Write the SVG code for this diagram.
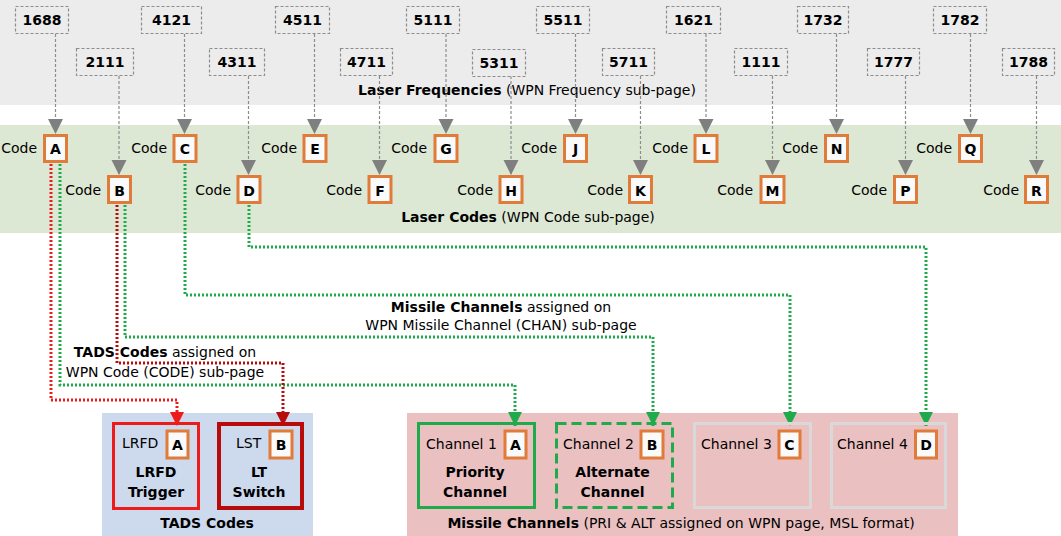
<svg xmlns="http://www.w3.org/2000/svg" width="1061" height="536" viewBox="0 0 1061 536">
<defs>
<style>
text{font-family:"DejaVu Sans","Liberation Sans",sans-serif;font-size:14px;fill:#000}
.b{font-weight:bold}
.m{text-anchor:middle}
.e{text-anchor:end}
.freq rect{fill:#ececec;stroke:#8c8c8c;stroke-width:1.2;stroke-dasharray:3 2}
.cb{fill:#fafafa;stroke:#e07b39;stroke-width:3}
.gl{fill:none;stroke:#8c8c8c;stroke-width:1.2;stroke-dasharray:3 2}
.dot{fill:none;stroke-width:3;stroke-dasharray:2 2}
.g{stroke:#1faa4b}
.r{stroke:#ee1b1b}
.dr{stroke:#b80c0c}
</style>
<marker id="ag" markerUnits="userSpaceOnUse" markerWidth="16" markerHeight="16" refX="15" refY="7.5" orient="auto"><path d="M0,0 L15,7.5 L0,15 z" fill="#7f7f7f"/></marker>
<marker id="agr" markerUnits="userSpaceOnUse" markerWidth="15" markerHeight="15" refX="14" refY="7" orient="auto"><path d="M0,0 L14,7 L0,14 z" fill="#1faa4b"/></marker>
<marker id="ar" markerUnits="userSpaceOnUse" markerWidth="15" markerHeight="15" refX="14" refY="7" orient="auto"><path d="M0,0 L14,7 L0,14 z" fill="#ee1b1b"/></marker>
<marker id="adr" markerUnits="userSpaceOnUse" markerWidth="15" markerHeight="15" refX="14" refY="7" orient="auto"><path d="M0,0 L14,7 L0,14 z" fill="#b80c0c"/></marker>
</defs>

<g id="bands">
<rect x="0" y="0" width="1061" height="105" fill="#ececec"/>
<rect x="0" y="125" width="1061" height="108" fill="#dde8d4"/>
<rect x="102" y="413" width="211" height="123" fill="#cdd9ec"/>
<rect x="407" y="413" width="551" height="123" fill="#ebc0c0"/>
<text x="527" y="95" class="m"><tspan class="b">Laser Frequencies</tspan> (WPN Frequency sub-page)</text>
<text x="528" y="222" class="m"><tspan class="b">Laser Codes</tspan> (WPN Code sub-page)</text>
<text x="207" y="528" class="m b">TADS Codes</text>
<text x="681" y="528" class="m"><tspan class="b">Missile Channels</tspan> (PRI &amp; ALT assigned on WPN page, MSL format)</text>
</g>

<g id="connectors">
<path class="gl" d="M55.5,34 V134" marker-end="url(#ag)"/>
<path class="gl" d="M119,76 V175" marker-end="url(#ag)"/>
<path class="gl" d="M184.5,34 V134" marker-end="url(#ag)"/>
<path class="gl" d="M248.5,76 V175" marker-end="url(#ag)"/>
<path class="gl" d="M314.5,34 V134" marker-end="url(#ag)"/>
<path class="gl" d="M379.5,76 V175" marker-end="url(#ag)"/>
<path class="gl" d="M446,34 V134" marker-end="url(#ag)"/>
<path class="gl" d="M511,76 V175" marker-end="url(#ag)"/>
<path class="gl" d="M575.5,34 V134" marker-end="url(#ag)"/>
<path class="gl" d="M640.5,76 V175" marker-end="url(#ag)"/>
<path class="gl" d="M706,34 V134" marker-end="url(#ag)"/>
<path class="gl" d="M772.5,76 V175" marker-end="url(#ag)"/>
<path class="gl" d="M836.5,34 V134" marker-end="url(#ag)"/>
<path class="gl" d="M905.5,76 V175" marker-end="url(#ag)"/>
<path class="gl" d="M970.5,34 V134" marker-end="url(#ag)"/>
<path class="gl" d="M1036.5,76 V175" marker-end="url(#ag)"/>

<path class="dot g" d="M249,205 V247 H926 V426" marker-end="url(#agr)"/>
<path class="dot g" d="M185,164 V295 H790 V426" marker-end="url(#agr)"/>
<path class="dot g" d="M125,205 V337 H653 V426" marker-end="url(#agr)"/>
<path class="dot g" d="M60,164 V385 H515 V426" marker-end="url(#agr)"/>
<path class="dot dr" d="M117,205 V363 H283 V426" marker-end="url(#adr)"/>
<path class="dot r" d="M51,164 V400 H177 V426" marker-end="url(#ar)"/>
<text x="165" y="357" class="m"><tspan class="b">TADS Codes</tspan> assigned on</text>
<text x="165" y="377" class="m">WPN Code (CODE) sub-page</text>
<text x="501" y="312" class="m"><tspan class="b">Missile Channels</tspan> assigned on</text>
<text x="501" y="330" class="m">WPN Missile Channel (CHAN) sub-page</text>
</g>

<g id="freq-1688" class="freq"><rect x="15.5" y="6.5" width="53" height="27"/><text x="42" y="25" class="m b">1688</text></g>
<g id="freq-2111" class="freq"><rect x="76.5" y="48.5" width="57" height="27"/><text x="105" y="67" class="m b">2111</text></g>
<g id="freq-4121" class="freq"><rect x="141.5" y="6.5" width="60" height="27"/><text x="171.5" y="25" class="m b">4121</text></g>
<g id="freq-4311" class="freq"><rect x="209.5" y="48.5" width="55" height="27"/><text x="237" y="67" class="m b">4311</text></g>
<g id="freq-4511" class="freq"><rect x="275.5" y="6.5" width="54" height="27"/><text x="302.5" y="25" class="m b">4511</text></g>
<g id="freq-4711" class="freq"><rect x="340.5" y="48.5" width="52" height="27"/><text x="366.5" y="67" class="m b">4711</text></g>
<g id="freq-5111" class="freq"><rect x="406.5" y="6.5" width="53" height="27"/><text x="433" y="25" class="m b">5111</text></g>
<g id="freq-5311" class="freq"><rect x="472.5" y="49.5" width="53" height="27"/><text x="499" y="68" class="m b">5311</text></g>
<g id="freq-5511" class="freq"><rect x="536.5" y="6.5" width="53" height="27"/><text x="563" y="25" class="m b">5511</text></g>
<g id="freq-5711" class="freq"><rect x="602.5" y="48.5" width="52" height="27"/><text x="628.5" y="67" class="m b">5711</text></g>
<g id="freq-1621" class="freq"><rect x="666.5" y="6.5" width="54" height="27"/><text x="693.5" y="25" class="m b">1621</text></g>
<g id="freq-1111" class="freq"><rect x="734.5" y="48.5" width="53" height="27"/><text x="761" y="67" class="m b">1111</text></g>
<g id="freq-1732" class="freq"><rect x="797.5" y="6.5" width="51" height="27"/><text x="823" y="25" class="m b">1732</text></g>
<g id="freq-1777" class="freq"><rect x="867.5" y="48.5" width="52" height="27"/><text x="893.5" y="67" class="m b">1777</text></g>
<g id="freq-1782" class="freq"><rect x="933.5" y="6.5" width="53" height="27"/><text x="960" y="25" class="m b">1782</text></g>
<g id="freq-1788" class="freq"><rect x="1002.5" y="48.5" width="52" height="27"/><text x="1028.5" y="67" class="m b">1788</text></g>

<g id="code-A"><text x="37" y="153" class="e">Code</text><rect class="cb" x="44.5" y="135.5" width="22" height="26"/><text x="55.5" y="154" class="m b">A</text></g>
<g id="code-B"><text x="101" y="195" class="e">Code</text><rect class="cb" x="108.5" y="176.5" width="22" height="26"/><text x="119.5" y="196" class="m b">B</text></g>
<g id="code-C"><text x="167" y="153" class="e">Code</text><rect class="cb" x="174" y="135.5" width="22" height="26"/><text x="185" y="154" class="m b">C</text></g>
<g id="code-D"><text x="231" y="195" class="e">Code</text><rect class="cb" x="238" y="176.5" width="22" height="26"/><text x="249" y="196" class="m b">D</text></g>
<g id="code-E"><text x="297" y="153" class="e">Code</text><rect class="cb" x="304" y="135.5" width="22" height="26"/><text x="315" y="154" class="m b">E</text></g>
<g id="code-F"><text x="362" y="195" class="e">Code</text><rect class="cb" x="369" y="176.5" width="22" height="26"/><text x="380" y="196" class="m b">F</text></g>
<g id="code-G"><text x="427" y="153" class="e">Code</text><rect class="cb" x="435" y="135.5" width="22" height="26"/><text x="446" y="154" class="m b">G</text></g>
<g id="code-H"><text x="493" y="195" class="e">Code</text><rect class="cb" x="500" y="176.5" width="22" height="26"/><text x="511" y="196" class="m b">H</text></g>
<g id="code-J"><text x="557" y="153" class="e">Code</text><rect class="cb" x="564.5" y="135.5" width="22" height="26"/><text x="575.5" y="154" class="m b">J</text></g>
<g id="code-K"><text x="623" y="195" class="e">Code</text><rect class="cb" x="629.5" y="176.5" width="22" height="26"/><text x="640.5" y="196" class="m b">K</text></g>
<g id="code-L"><text x="688" y="153" class="e">Code</text><rect class="cb" x="695" y="135.5" width="22" height="26"/><text x="706" y="154" class="m b">L</text></g>
<g id="code-M"><text x="753" y="195" class="e">Code</text><rect class="cb" x="761" y="176.5" width="23" height="26"/><text x="772.5" y="196" class="m b">M</text></g>
<g id="code-N"><text x="818" y="153" class="e">Code</text><rect class="cb" x="825.5" y="135.5" width="22" height="26"/><text x="836.5" y="154" class="m b">N</text></g>
<g id="code-P"><text x="887" y="195" class="e">Code</text><rect class="cb" x="894.5" y="176.5" width="22" height="26"/><text x="905.5" y="196" class="m b">P</text></g>
<g id="code-Q"><text x="952" y="153" class="e">Code</text><rect class="cb" x="959.5" y="135.5" width="22" height="26"/><text x="970.5" y="154" class="m b">Q</text></g>
<g id="code-R"><text x="1019" y="195" class="e">Code</text><rect class="cb" x="1025.5" y="176.5" width="22" height="26"/><text x="1036.5" y="196" class="m b">R</text></g>

<g id="lrfd">
<rect x="113.5" y="423.5" width="85" height="85" fill="none" stroke="#ee1b1b" stroke-width="3"/>
<text x="122" y="448">LRFD</text>
<rect class="cb" x="167" y="431" width="21" height="27" stroke-width="2.5"/><text x="177.5" y="450" class="m b">A</text>
<text x="156" y="477" class="m b">LRFD</text><text x="156" y="497" class="m b">Trigger</text>
</g>
<g id="lst">
<rect x="219" y="424" width="83" height="84" fill="none" stroke="#b80c0c" stroke-width="4"/>
<text x="236" y="448">LST</text>
<rect class="cb" x="270" y="431" width="22" height="27" stroke-width="2.5"/><text x="281" y="450" class="m b">B</text>
<text x="259" y="477" class="m b">LT</text><text x="259" y="497" class="m b">Switch</text>
</g>
<g id="channel-1">
<rect x="418.5" y="423.5" width="116" height="84" fill="none" stroke="#1faa4b" stroke-width="3"/>
<text x="426" y="449">Channel 1</text>
<rect class="cb" x="505" y="431" width="21" height="27" stroke-width="2.5"/><text x="515.5" y="450" class="m b">A</text>
<text x="475" y="477" class="m b">Priority</text><text x="475" y="497" class="m b">Channel</text>
</g>
<g id="channel-2">
<rect x="556.5" y="423.5" width="116" height="84" fill="none" stroke="#1faa4b" stroke-width="3" stroke-dasharray="10 5"/>
<text x="563" y="449">Channel 2</text>
<rect class="cb" x="641" y="431" width="22" height="27" stroke-width="2.5"/><text x="652" y="450" class="m b">B</text>
<text x="612.5" y="477" class="m b">Alternate</text><text x="612.5" y="497" class="m b">Channel</text>
</g>
<g id="channel-3">
<rect x="694.5" y="423.5" width="116" height="84" fill="none" stroke="#d9d9d9" stroke-width="3"/>
<text x="701" y="449">Channel 3</text>
<rect class="cb" x="779" y="431" width="21" height="27" stroke-width="2.5"/><text x="789.5" y="450" class="m b">C</text>
</g>
<g id="channel-4">
<rect x="831.5" y="423.5" width="114" height="84" fill="none" stroke="#d9d9d9" stroke-width="3"/>
<text x="837" y="449">Channel 4</text>
<rect class="cb" x="915.5" y="431" width="21" height="27" stroke-width="2.5"/><text x="926" y="450" class="m b">D</text>
</g>
</svg>
